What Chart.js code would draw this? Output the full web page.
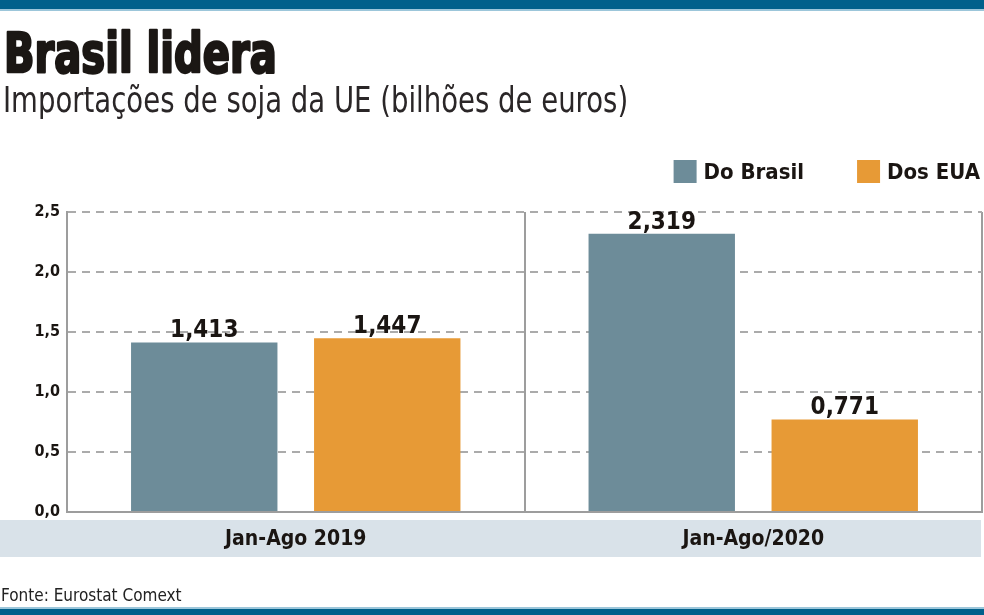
<!DOCTYPE html>
<html>
<head>
<meta charset="utf-8">
<script src="https://cdn.jsdelivr.net/npm/chart.js@4.4.1/dist/chart.umd.min.js"></script>
<style>
  html, body { margin: 0; padding: 0; background: #fff; }
  #wrap { width: 984px; height: 615px; position: relative; }
</style>
</head>
<body>
<div id="wrap"><canvas id="myChart"></canvas></div>
<script>
const periods = ['Jan-Ago 2019', 'Jan-Ago/2020'];
const seriesNames = ['Do Brasil', 'Dos EUA'];
const brasil = [1.413, 2.319];
const eua = [1.447, 0.771];
const yTicks = [0, 0.5, 1.0, 1.5, 2.0, 2.5];
const title = 'Brasil lidera';
const subtitle = 'Importações de soja da UE (bilhões de euros)';
const source = 'Fonte: Eurostat Comext';

const cond = "'DejaVu Sans Condensed', 'DejaVu Sans', sans-serif";
const grey = '#6d8c99';
const orange = '#e79a36';

const comma = (v, d) => v.toFixed(d).replace('.', ',');

// squeezed text, the original uses a narrow typeface
function narrowText(ctx, text, x, y, font, sx, stroke) {
    ctx.save();
    ctx.font = font;
    ctx.translate(x, y);
    ctx.scale(sx, 1);
    ctx.fillText(text, 0, 0);
    if (stroke) {
        ctx.strokeStyle = ctx.fillStyle;
        ctx.lineWidth = stroke;
        ctx.lineJoin = 'round';
        ctx.strokeText(text, 0, 0);
    }
    ctx.restore();
}

// frame: blue bars, titles, label band, source, legend
const frame = {
    id: 'frame',
    beforeDraw(chart) {
        const ctx = chart.ctx;
        const a = chart.chartArea;
        ctx.save();
        ctx.fillStyle = '#00608b';
        ctx.fillRect(0, 0, 984, 9);
        ctx.fillStyle = '#9cc6da';
        ctx.fillRect(0, 9, 984, 2);
        ctx.fillStyle = '#00608b';
        ctx.fillRect(0, 609, 984, 6);
        ctx.fillStyle = '#9cc6da';
        ctx.fillRect(0, 607, 984, 2);
        ctx.fillStyle = '#d9e2e9';
        ctx.fillRect(0, a.bottom + 8, 981, 37);

        ctx.textBaseline = 'alphabetic';
        ctx.textAlign = 'left';
        ctx.fillStyle = '#1b1714';
        narrowText(ctx, title, 4, 72, 'bold 55px ' + cond, 0.81, 2.5);
        ctx.fillStyle = '#2a2627';
        narrowText(ctx, subtitle, 3, 112, '36px ' + cond, 0.85);
        ctx.fillStyle = '#222';
        narrowText(ctx, source, 1, 601, '17px ' + cond, 1.0);
        ctx.restore();
    },
    afterDraw(chart) {
        const ctx = chart.ctx;
        ctx.save();
        ctx.font = 'bold 22px ' + cond;
        ctx.textBaseline = 'middle';
        ctx.textAlign = 'left';
        let x = 980;
        const ds = chart.data.datasets.slice().reverse();
        ds.forEach((d) => {
            const w = ctx.measureText(d.label).width;
            const tx = x - w;
            ctx.fillStyle = '#1a1512';
            ctx.fillText(d.label, tx, 173);
            ctx.fillStyle = d.backgroundColor;
            ctx.fillRect(tx - 30, 160, 23, 23);
            x = tx - 30 - 53;
        });
        ctx.restore();
    }
};

// value labels above bars
const valueLabels = {
    id: 'valueLabels',
    afterDatasetsDraw(chart) {
        const ctx = chart.ctx;
        ctx.save();
        ctx.font = 'bold 24px ' + cond;
        ctx.fillStyle = '#1a1512';
        ctx.textAlign = 'center';
        ctx.textBaseline = 'alphabetic';
        chart.data.datasets.forEach((d, i) => {
            chart.getDatasetMeta(i).data.forEach((bar, j) => {
                ctx.fillText(comma(d.data[j], 3), bar.x, bar.y - 5);
            });
        });
        ctx.restore();
    }
};

const ctx = document.getElementById('myChart').getContext('2d');
const myChart = new Chart(ctx, {
    type: 'bar',
    data: {
        labels: periods,
        datasets: [{
            label: seriesNames[0],
            data: brasil,
            backgroundColor: grey,
            barPercentage: 0.8,
            categoryPercentage: 0.8
        }, {
            label: seriesNames[1],
            data: eua,
            backgroundColor: orange,
            barPercentage: 0.8,
            categoryPercentage: 0.8
        }]
    },
    options: {
        responsive: true,
        maintainAspectRatio: false,
        animation: false,
        devicePixelRatio: 1,
        layout: { padding: { left: 3, right: 2, top: 212, bottom: 58 } },
        plugins: {
            legend: { display: false },
            tooltip: { enabled: false }
        },
        scales: {
            x: {
                grid: { offset: true, color: '#9d9d9d', lineWidth: 2, drawTicks: false },
                border: { color: '#9d9d9d', width: 2 },
                ticks: {
                    color: '#1a1512',
                    padding: 15,
                    font: { family: cond, size: 21, weight: 'bold' }
                },
                afterFit: (s) => { s.height = 45; }
            },
            y: {
                min: 0,
                max: 2.5,
                afterBuildTicks: (s) => { s.ticks = yTicks.map((v) => ({ value: v })); },
                grid: { color: '#ababab', lineWidth: 2, drawTicks: false },
                border: { color: '#9d9d9d', width: 2, dash: [8, 6] },
                ticks: {
                    color: '#1a1512',
                    padding: 7,
                    font: { family: cond, size: 16, weight: 'bold' },
                    callback: (v) => comma(v, 1)
                },
                afterFit: (s) => { s.width = 64; }
            }
        }
    },
    plugins: [frame, valueLabels]
});
</script>
</body>
</html>
